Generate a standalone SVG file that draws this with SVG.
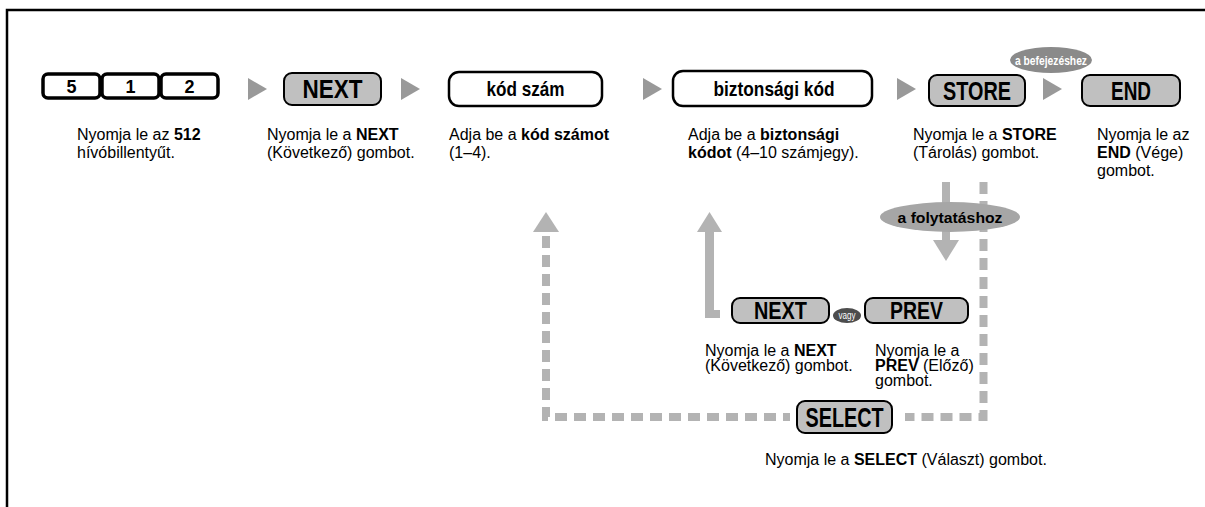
<svg xmlns="http://www.w3.org/2000/svg" width="1205" height="507" viewBox="0 0 1205 507">
<style>
.t{font-family:"Liberation Sans",Arial,sans-serif;font-size:16px;fill:#000}
.b{font-weight:bold}
.key{fill:#fff;stroke:#000;stroke-width:3.5}
.btn{fill:#c0c0c0;stroke:#000;stroke-width:2}
.box{fill:#fff;stroke:#000;stroke-width:2.5}
.bl{font-family:"Liberation Sans",Arial,sans-serif;font-weight:bold;text-anchor:middle;fill:#000}
.tri{fill:#999}
.dash{fill:none;stroke:#b3b3b3;stroke-width:8;stroke-dasharray:12 7}
.solid{fill:#b3b3b3}
</style>
<rect width="1205" height="507" fill="#fff"/>
<path d="M7,507 V10 H1205" fill="none" stroke="#000" stroke-width="2.5"/>

<g id="connectors">
  <polygon class="tri" points="248,78 267,89 248,100"/>
  <polygon class="tri" points="401,78 420,89 401,100"/>
  <polygon class="tri" points="643,78 662,89 643,100"/>
  <polygon class="tri" points="897,78 916,89 897,100"/>
  <polygon class="tri" points="1043,78 1062,89 1043,100"/>
  <rect class="solid" x="942" y="182" width="8" height="58"/>
  <polygon class="solid" points="933,240 959,240 946,261"/>
  <path class="dash" d="M983.5,182 V417 H905"/>
  <path class="dash" d="M546,236 V417 H790"/>
  <polygon class="solid" points="533,232 559,232 546,212"/>
  <polygon class="solid" points="705,232 705,318 720,318 720,310 714,310 714,232"/>
  <polygon class="solid" points="697,232 722,232 709.5,212"/>
</g>

<g id="key512">
  <rect class="key" x="43" y="74" width="57" height="24" rx="5"/>
  <rect class="key" x="102" y="74" width="57" height="24" rx="5"/>
  <rect class="key" x="161" y="74" width="57" height="24" rx="5"/>
  <text class="bl" x="71.5" y="93" font-size="18">5</text>
  <text class="bl" x="130.5" y="93" font-size="18">1</text>
  <text class="bl" x="189.5" y="93" font-size="18">2</text>
  <text class="t" x="77" y="140">Nyomja le az <tspan class="b">512</tspan></text>
  <text class="t" x="77" y="158">hívóbillentyűt.</text>
</g>

<g id="next1">
  <rect class="btn" x="284" y="73" width="97" height="32" rx="8"/>
  <text class="bl" x="332.5" y="98" font-size="26" textLength="60" lengthAdjust="spacingAndGlyphs">NEXT</text>
  <text class="t" x="267" y="140">Nyomja le a <tspan class="b">NEXT</tspan></text>
  <text class="t" x="267" y="158">(Következő) gombot.</text>
</g>

<g id="kodszam">
  <rect class="box" x="449" y="72" width="153" height="34" rx="10"/>
  <text class="bl" x="525.5" y="96" font-size="21" textLength="78" lengthAdjust="spacingAndGlyphs">kód szám</text>
  <text class="t" x="449" y="140">Adja be a <tspan class="b">kód számot</tspan></text>
  <text class="t" x="449" y="158">(1–4).</text>
</g>

<g id="bizkod">
  <rect class="box" x="673" y="71" width="199" height="35" rx="10"/>
  <text class="bl" x="774" y="96" font-size="21" textLength="121" lengthAdjust="spacingAndGlyphs">biztonsági kód</text>
  <text class="t" x="688" y="140">Adja be a <tspan class="b">biztonsági</tspan></text>
  <text class="t" x="688" y="158"><tspan class="b">kódot</tspan> (4–10 számjegy).</text>
</g>

<g id="store">
  <rect class="btn" x="929" y="75" width="96" height="31" rx="8"/>
  <text class="bl" x="977" y="99.5" font-size="26" textLength="68" lengthAdjust="spacingAndGlyphs">STORE</text>
  <text class="t" x="913" y="140">Nyomja le a <tspan class="b">STORE</tspan></text>
  <text class="t" x="913" y="158">(Tárolás) gombot.</text>
</g>

<g id="befejezeshez">
  <ellipse cx="1051" cy="60" rx="41" ry="13" fill="#8a8a8a"/>
  <text class="bl" x="1051" y="64.5" font-size="12" style="fill:#fff" textLength="72" lengthAdjust="spacingAndGlyphs">a befejezéshez</text>
</g>

<g id="end">
  <rect class="btn" x="1082" y="75" width="98" height="31" rx="8"/>
  <text class="bl" x="1131" y="99.5" font-size="26" textLength="40" lengthAdjust="spacingAndGlyphs">END</text>
  <text class="t" x="1097" y="140">Nyomja le az</text>
  <text class="t" x="1097" y="158"><tspan class="b">END</tspan> (Vége)</text>
  <text class="t" x="1097" y="176">gombot.</text>
</g>

<g id="folytatashoz">
  <ellipse cx="950" cy="217" rx="70" ry="15" fill="#a6a6a6"/>
  <text class="bl" x="950" y="222.5" font-size="15" textLength="105" lengthAdjust="spacingAndGlyphs">a folytatáshoz</text>
</g>

<g id="next2">
  <rect class="btn" x="732" y="298" width="97" height="25" rx="8"/>
  <text class="bl" x="780.5" y="319" font-size="23" textLength="53" lengthAdjust="spacingAndGlyphs">NEXT</text>
  <text class="t" x="705" y="356">Nyomja le a <tspan class="b">NEXT</tspan></text>
  <text class="t" x="705" y="371">(Következő) gombot.</text>
</g>

<g id="vagy">
  <ellipse cx="847" cy="315.5" rx="14" ry="7.5" fill="#4d4d4d"/>
  <text class="bl" x="847" y="318.5" font-size="10" style="fill:#fff;font-weight:normal" textLength="17" lengthAdjust="spacingAndGlyphs">vagy</text>
</g>

<g id="prev">
  <rect class="btn" x="865" y="298" width="103" height="25" rx="8"/>
  <text class="bl" x="916.5" y="319" font-size="23" textLength="53" lengthAdjust="spacingAndGlyphs">PREV</text>
  <text class="t" x="875" y="356">Nyomja le a</text>
  <text class="t" x="875" y="371"><tspan class="b">PREV</tspan> (Előző)</text>
  <text class="t" x="875" y="386">gombot.</text>
</g>

<g id="select">
  <rect class="btn" x="797" y="401" width="95" height="32" rx="8"/>
  <text class="bl" x="844.5" y="427" font-size="27" textLength="78" lengthAdjust="spacingAndGlyphs">SELECT</text>
  <text class="t" x="765" y="465">Nyomja le a <tspan class="b">SELECT</tspan> (Választ) gombot.</text>
</g>
</svg>
